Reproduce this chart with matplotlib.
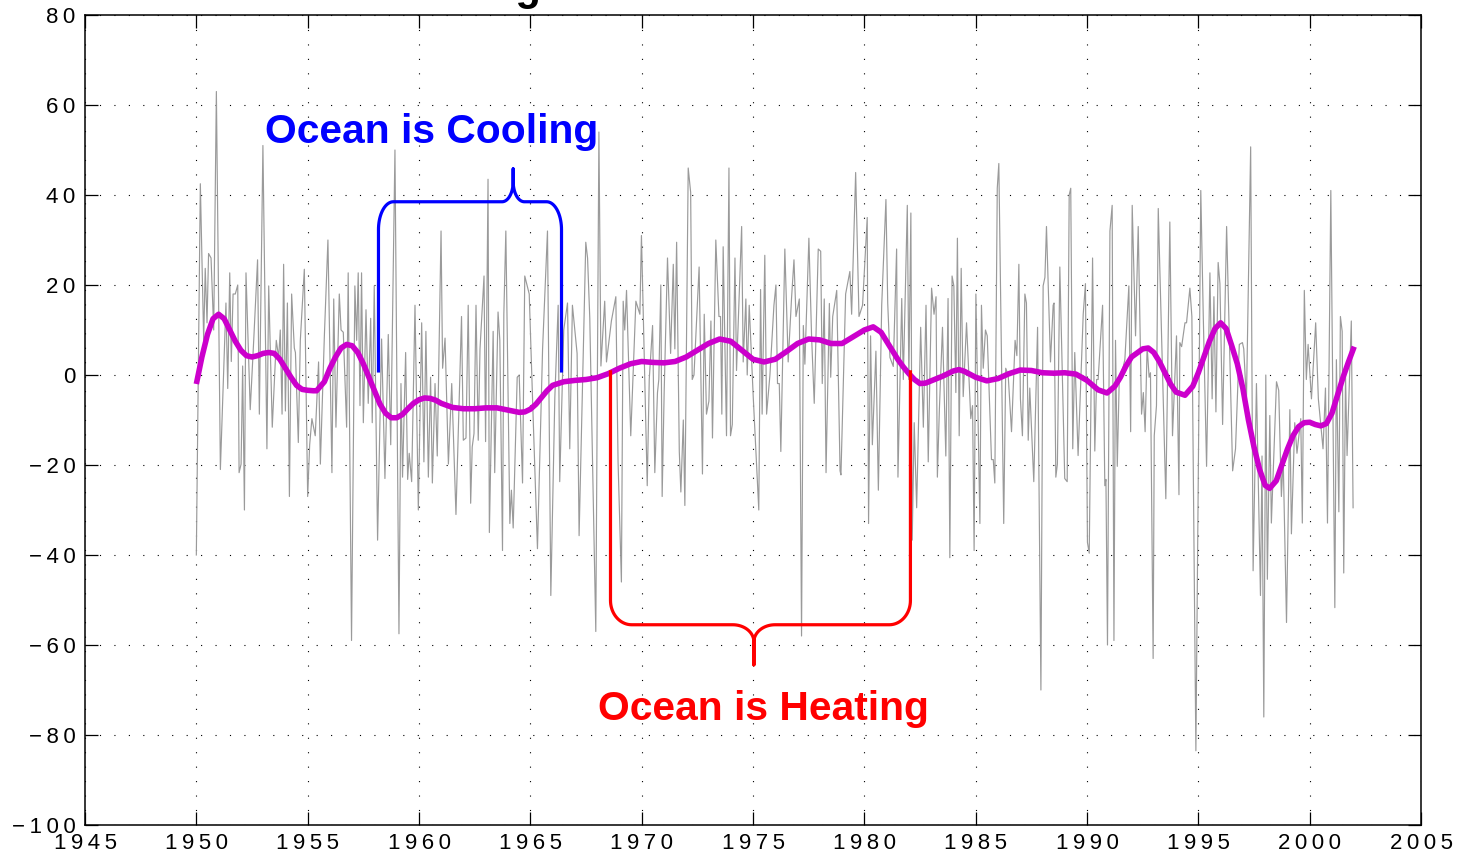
import numpy as np
import matplotlib
matplotlib.use("Agg")
import matplotlib.pyplot as plt
from matplotlib.ticker import FuncFormatter

# ---- monthly-ish anomaly series (grey) ----
years = [
    1950.00, 1950.18, 1950.33, 1950.40, 1950.48, 1950.55, 1950.66, 1950.78, 1950.90, 1951.08,
    1951.33, 1951.41, 1951.50, 1951.57, 1951.65, 1951.75, 1951.86, 1951.92, 1952.01, 1952.08,
    1952.16, 1952.23, 1952.42, 1952.58, 1952.75, 1952.83, 1952.99, 1953.17, 1953.25, 1953.41,
    1953.59, 1953.70, 1953.77, 1953.85, 1953.92, 1954.00, 1954.09, 1954.18, 1954.28, 1954.40,
    1954.45, 1954.58, 1954.67, 1954.85, 1955.00, 1955.09, 1955.19, 1955.34, 1955.49, 1955.57,
    1955.75, 1955.91, 1956.09, 1956.17, 1956.27, 1956.42,
    1956.50, 1956.60, 1956.75, 1956.82, 1956.97, 1957.12, 1957.20, 1957.27, 1957.35, 1957.42,
    1957.50, 1957.62, 1957.72, 1957.83, 1957.90, 1957.99, 1958.14, 1958.32, 1958.47, 1958.62,
    1958.73, 1958.92, 1959.10, 1959.19, 1959.26, 1959.40, 1959.49, 1959.56, 1959.67, 1959.82,
    1959.97, 1960.12, 1960.22, 1960.31, 1960.42, 1960.52, 1960.60, 1960.72, 1960.82, 1960.99,
    1961.06, 1961.17, 1961.32, 1961.47, 1961.66, 1961.91, 1961.99, 1962.11, 1962.21, 1962.32,
    1962.39, 1962.47, 1962.56, 1962.66, 1962.74, 1962.92, 1962.99, 1963.10, 1963.16,
    1963.33, 1963.40, 1963.55, 1963.63, 1963.75, 1963.81, 1963.90, 1964.08, 1964.15, 1964.23,
    1964.41, 1964.50, 1964.65, 1964.75, 1964.95, 1965.13, 1965.32, 1965.55, 1965.77, 1965.92,
    1966.10, 1966.25, 1966.32, 1966.50, 1966.67, 1966.77, 1966.89, 1967.10, 1967.19, 1967.49,
    1967.57, 1967.67, 1967.94, 1968.08, 1968.17, 1968.34, 1968.42, 1968.64, 1968.84, 1968.94,
    1969.09, 1969.17, 1969.24, 1969.32, 1969.51, 1969.74, 1969.92,
    1969.99, 1970.25, 1970.34, 1970.49, 1970.59, 1970.71, 1970.77, 1970.86, 1970.92, 1971.01,
    1971.16, 1971.30, 1971.42, 1971.49, 1971.57, 1971.69, 1971.76, 1971.87, 1971.94, 1972.09,
    1972.20, 1972.27, 1972.35, 1972.58, 1972.73, 1972.81, 1972.91, 1973.02, 1973.11, 1973.18,
    1973.33, 1973.47, 1973.54, 1973.60, 1973.66, 1973.81, 1973.92, 1973.99, 1974.07, 1974.19,
    1974.26, 1974.49, 1974.56, 1974.68, 1974.74, 1974.83, 1975.01, 1975.26, 1975.34, 1975.41,
    1975.53, 1975.61, 1975.76, 1975.94, 1976.03, 1976.10, 1976.18, 1976.25, 1976.43, 1976.58,
    1976.73, 1976.84, 1976.93, 1977.08, 1977.18, 1977.26, 1977.33, 1977.51, 1977.63, 1977.75,
    1977.93, 1978.04, 1978.11, 1978.20, 1978.28, 1978.43, 1978.49, 1978.58, 1978.76, 1978.91,
    1978.95, 1979.16, 1979.35, 1979.43, 1979.61, 1979.76, 1979.92, 1980.13, 1980.19, 1980.28,
    1980.36, 1980.52, 1980.63, 1980.78, 1980.97, 1981.05, 1981.15, 1981.30, 1981.45, 1981.51,
    1981.68, 1981.75, 1981.93, 1982.00, 1982.09, 1982.15, 1982.24, 1982.35, 1982.53, 1982.65,
    1982.77, 1982.87, 1983.02, 1983.13, 1983.22, 1983.28, 1983.37,
    1983.51, 1983.66, 1983.76, 1983.84, 1983.94, 1984.02, 1984.11, 1984.18, 1984.26, 1984.35,
    1984.44, 1984.59, 1984.78, 1984.86, 1984.93, 1985.01, 1985.19, 1985.26, 1985.34, 1985.44,
    1985.52, 1985.71, 1985.79, 1985.86, 1985.97, 1986.04, 1986.26, 1986.35, 1986.46, 1986.61,
    1986.77, 1986.85, 1986.94, 1987.01, 1987.10, 1987.21, 1987.28, 1987.36, 1987.43, 1987.61,
    1987.78, 1987.93, 1988.03, 1988.11, 1988.18, 1988.36, 1988.48, 1988.52, 1988.60, 1988.67,
    1988.78, 1989.00, 1989.11, 1989.20, 1989.27, 1989.36, 1989.45, 1989.60, 1989.83, 1989.93,
    1990.02, 1990.10,
    1990.25, 1990.35, 1990.43, 1990.50, 1990.70, 1990.80, 1990.85, 1990.92, 1991.03, 1991.13,
    1991.21, 1991.28, 1991.36, 1991.45, 1991.63, 1991.70, 1991.88, 1991.96, 1992.03, 1992.18,
    1992.30, 1992.45, 1992.53, 1992.61, 1992.70, 1992.79, 1992.85, 1992.97, 1993.02, 1993.12,
    1993.20, 1993.35, 1993.54, 1993.72, 1993.84, 1994.02, 1994.13, 1994.17, 1994.25, 1994.40,
    1994.47, 1994.62, 1994.71, 1994.89, 1995.11, 1995.22, 1995.37, 1995.52, 1995.62, 1995.70,
    1995.79, 1995.89, 1995.97, 1996.09, 1996.27, 1996.54, 1996.67, 1996.84,
    1996.98, 1997.04, 1997.16, 1997.35, 1997.46, 1997.61, 1997.79, 1997.86, 1997.94, 1998.03,
    1998.10, 1998.21, 1998.28, 1998.51, 1998.61, 1998.73, 1998.81, 1998.96, 1999.11, 1999.18,
    1999.33, 1999.43, 1999.60, 1999.67, 1999.76, 1999.85, 1999.93, 2000.08, 2000.27, 2000.39,
    2000.60, 2000.71, 2000.80, 2000.95, 2001.13, 2001.20, 2001.31, 2001.38, 2001.46, 2001.53,
    2001.61, 2001.68, 2001.87, 2001.95,
]
anomaly = [
    -40.0, 42.5, 7.7, 23.7, 11.6, 27.0, 26.0, 10.0, 63.0, -21.0,
    16.0, -3.0, 22.7, 3.0, 18.0, 18.0, 20.0, -21.7, -19.8, 2.0,
    -30.0, 22.7, -7.7, 8.0, 25.6, -8.7, 51.0, -16.4, 19.8, -11.6,
    7.7, 3.9, 10.0, -8.7, 24.6, -8.0, 16.0, -27.0, 18.0, 6.0,
    5.0, -15.0, 7.7, 23.5, -27.0, -15.5, -9.7, -13.5, 2.9, -19.8,
    8.7, 30.0, -21.7, 16.9, -11.6, 18.0,
    10.0, 9.5, -11.6, 22.7, -59.0, 19.8, 7.7, 22.7, -6.8, 22.7,
    -10.6, 14.5, -6.3, 12.6, -10.6, 19.8, -36.7, 8.0, -23.0, 9.0,
    -15.5, 50.0, -57.5, -1.9, -22.7, 5.0, -23.2, -17.4, -23.7, 15.5,
    -30.0, 11.6, -19.3, 9.7, -22.7, -0.5, -24.0, -1.9, -18.0, 32.0,
    1.5, 8.2, -19.8, -1.9, -31.0, 13.0, -14.5, -14.0, 15.5, -28.5,
    -16.0, -13.0, 15.5, -14.5, 5.8, 22.0, -14.8, 43.5, -35.0,
    9.7, -21.7, 14.0, 7.7, -39.0, 13.5, 32.0, -33.0, -25.6, -34.0,
    -0.5, 0.0, -24.0, 22.0, 18.0, -10.0, -38.6, 5.8, 32.0, -49.0,
    -5.0, 15.5, -23.7, 10.0, 16.0, -16.4, 15.5, 4.8, -35.7, 29.5,
    26.0, 12.6, -57.0, 54.0, 2.0, 16.4, 2.9, 12.0, 17.4, -19.3,
    -46.0, 16.4, 10.0, 18.8, -13.5, 16.4, 13.5,
    31.0, -24.6, -1.0, 11.0, -21.7, -3.9, -1.0, 20.0, -27.0, -3.9,
    26.0, 4.8, 24.6, 5.8, 29.5, -17.0, -26.0, -10.0, -29.0, 46.0,
    40.6, -1.0, 0.0, 24.0, -22.0, 13.5, -8.7, -5.8, 12.0, -14.0,
    30.0, 13.0, 13.0, -8.7, 28.5, -13.5, 46.0, -13.5, -11.0, 26.0,
    1.0, 33.0, 2.9, 16.9, 0.0, 15.5, -4.8, -30.0, 19.0, -8.7,
    26.6, -8.7, 0.0, 15.5, 20.0, -1.9, -1.9, -17.0, 28.0, 2.9,
    17.0, 25.6, 13.0, 16.9, -58.0, 11.0, 2.4, 30.4, 8.7, -6.3,
    28.0, 27.5, -1.9, 16.9, -21.7, 15.9, -0.5, 13.0, 18.8, -21.3,
    -22.2, 18.0, 23.0, 13.5, 45.0, 13.0, 15.5, 35.0, -33.0, 8.7,
    -15.5, 5.3, -25.6, 15.5, 39.0, 16.0, 3.9, 1.9, 28.0, -22.7,
    17.0, -1.0, 37.7, -1.0, 36.0, -36.7, -10.6, -29.5, 10.6, -11.6,
    15.5, -19.3, 19.3, 13.5, 17.4, -22.7, -7.7,
    10.6, -18.0, 17.0, -40.6, 22.0, 19.8, -3.9, 30.4, -13.5, 23.7,
    -4.8, 11.6, -9.7, -6.8, -39.0, 18.0, -33.0, 15.5, 1.5, 10.0,
    8.7, -18.8, -18.8, -24.0, 41.5, 47.0, -33.0, 1.5, 0.0, -12.6,
    7.7, 4.3, 24.6, -5.3, -13.5, 18.0, 16.0, -14.5, -2.9, -23.7,
    10.6, -70.0, 19.8, 21.7, 33.0, 2.9, 15.5, 16.0, -22.7, -19.8,
    24.0, -23.0, -23.7, 40.0, 41.5, -16.4, 5.0, -17.9, 13.5, 20.3,
    -37.2, -39.6,
    26.0, -16.9, -1.0, -1.0, 15.5, -24.6, -23.2, -60.0, 32.0, 37.7,
    -59.0, 7.7, -20.3, -0.5, 1.9, 3.4, 19.8, -12.6, 37.7, 8.7,
    33.0, -8.7, -3.9, -12.6, 6.3, -0.5, 0.5, -63.0, -13.5, -6.8,
    37.0, 8.7, -27.5, 34.0, -13.5, 8.7, -26.6, 7.2, 6.3, 11.6,
    11.6, 19.3, 13.0, -83.5, 41.0, 13.5, -20.3, 22.7, -5.3, 17.4,
    -8.2, 25.0, 20.3, -11.0, 33.0, -21.3, -16.4, 6.8,
    7.2, 5.8, -5.8, 50.7, -43.5, -1.9, -49.0, -18.0, -76.0, 0.0,
    -45.4, -9.0, -32.9, -1.5, -3.4, -27.0, -18.4, -55.0, -7.7, -35.3,
    -10.6, -17.4, -9.7, -32.9, 18.8, -1.0, 6.8, -5.3, 11.6, -5.3,
    -16.4, -2.9, -32.9, 41.0, -51.7, 3.4, -30.4, 13.0, 9.7, -44.0,
    0.0, -17.9, 12.0, -29.5,
]

# ---- smoothed curve (purple) ----
smooth_years = [
    1950.00, 1950.25, 1950.50, 1950.75, 1951.00, 1951.25, 1951.50, 1951.75, 1952.00, 1952.25,
    1952.50, 1952.75, 1953.00, 1953.25, 1953.50, 1953.75, 1954.00, 1954.25, 1954.50, 1954.75,
    1955.00, 1955.25, 1955.40, 1955.75, 1956.00, 1956.25, 1956.50, 1956.75, 1957.00, 1957.25,
    1957.50, 1957.75, 1958.00, 1958.25, 1958.50, 1958.75, 1959.00, 1959.25, 1959.50, 1959.75,
    1960.00, 1960.25, 1960.50, 1960.75, 1961.00, 1961.50, 1962.00, 1962.50, 1963.00, 1963.50,
    1964.00, 1964.50, 1964.75, 1965.00, 1965.25, 1965.50, 1965.75, 1966.00, 1966.50, 1967.00,
    1967.50, 1968.00, 1968.50, 1969.00, 1969.50, 1970.00, 1970.50, 1971.00, 1971.50, 1972.00,
    1972.50, 1973.00, 1973.50, 1974.00, 1974.50, 1975.00, 1975.50, 1976.00, 1976.50, 1977.00,
    1977.50, 1978.00, 1978.50, 1979.00, 1979.50, 1980.00, 1980.40, 1980.75, 1981.00, 1981.25,
    1981.50, 1981.75, 1982.00, 1982.25, 1982.50, 1982.75, 1983.00, 1983.50, 1984.00, 1984.25,
    1984.50, 1985.00, 1985.50, 1986.00, 1986.50, 1987.00, 1987.50, 1988.00, 1988.50, 1989.00,
    1989.50, 1990.00, 1990.50, 1990.90, 1991.25, 1991.50, 1991.75, 1992.00, 1992.50, 1992.75,
    1993.00, 1993.25, 1993.50, 1993.75, 1994.00, 1994.40, 1994.75, 1995.00, 1995.25, 1995.50,
    1995.75, 1996.00, 1996.25, 1996.50, 1996.75, 1997.00, 1997.25, 1997.50, 1997.75, 1998.00,
    1998.20, 1998.50, 1998.75, 1999.00, 1999.25, 1999.50, 1999.75, 2000.00, 2000.25, 2000.50,
    2000.75, 2001.00, 2001.25, 2001.50, 2001.75, 2002.00,
]
smooth_vals = [
    -2.0, 4.0, 9.0, 12.5, 13.5, 12.5, 10.0, 7.5, 5.5, 4.3,
    4.0, 4.3, 4.8, 5.0, 4.8, 3.5, 1.5, -0.5, -2.3, -3.2,
    -3.4, -3.5, -3.5, -1.5, 1.5, 4.0, 6.0, 6.8, 6.5, 5.0,
    2.5, -0.5, -3.5, -6.5, -8.5, -9.5, -9.5, -8.8, -7.5, -6.3,
    -5.5, -5.1, -5.2, -5.6, -6.3, -7.2, -7.5, -7.5, -7.3, -7.3,
    -7.8, -8.3, -8.2, -7.6, -6.5, -5.0, -3.5, -2.3, -1.5, -1.2,
    -1.0, -0.6, 0.3, 1.5, 2.5, 3.0, 2.8, 2.7, 3.0, 4.0,
    5.5, 7.0, 8.0, 7.5, 5.5, 3.5, 2.9, 3.5, 5.2, 7.0,
    8.0, 7.8, 7.0, 7.0, 8.5, 10.0, 10.7, 9.5, 7.5, 5.5,
    3.5, 1.8, 0.3, -1.0, -1.9, -1.8, -1.3, -0.3, 0.9, 1.2,
    0.8, -0.5, -1.3, -0.8, 0.3, 1.1, 1.0, 0.5, 0.4, 0.5,
    0.2, -1.2, -3.3, -4.0, -2.5, -0.5, 2.0, 4.0, 5.8, 6.0,
    5.0, 3.0, 0.5, -2.0, -3.8, -4.5, -2.5, 0.5, 4.0, 7.5,
    10.3, 11.6, 10.3, 6.5, 2.5, -3.0, -10.0, -16.0, -21.0, -24.5,
    -25.2, -23.5, -20.0, -16.5, -13.5, -11.5, -10.6, -10.5, -11.0, -11.3,
    -10.8, -8.5, -4.5, -0.5, 3.0, 6.3,
]

# ---- annotation spans ----
cooling_span = [1958.18, 1966.40]   # start, end of the cooling period
cooling_tip = 1964.23
heating_span = [1968.60, 1982.07]   # start, end of the heating period
heating_tip = 1975.04

x_ticks = list(range(1945, 2006, 5))
y_ticks = list(range(-100, 81, 20))

TICK_FONT = ["Liberation Sans", "DejaVu Sans"]
BOLD_FONT = ["Liberation Sans", "DejaVu Sans"]


def spaced(v, pos=None):
    s = "%d" % v
    s = s.replace("-", "\u2212")
    return "\u2009".join(s)


def brace(x_left, x_right, x_tip, y_leg, y_bar, y_tip, rx_c, ry_c, rx_t, ry_t):
    sgn = 1.0 if y_bar > y_leg else -1.0
    xs, ys = [x_left], [y_leg]
    t = np.linspace(np.pi, np.pi / 2, 20)
    cx, cy = x_left + rx_c, y_bar - sgn * ry_c
    xs += list(cx + rx_c * np.cos(t)); ys += list(cy + sgn * ry_c * np.sin(t))
    t = np.linspace(-np.pi / 2, 0, 20)
    cx, cy = x_tip - rx_t, y_bar + sgn * ry_t
    xs += list(cx + rx_t * np.cos(t)); ys += list(cy + sgn * ry_t * np.sin(t))
    xs.append(x_tip); ys.append(y_tip)
    t = np.linspace(np.pi, 1.5 * np.pi, 20)
    cx, cy = x_tip + rx_t, y_bar + sgn * ry_t
    xs += list(cx + rx_t * np.cos(t)); ys += list(cy + sgn * ry_t * np.sin(t))
    t = np.linspace(np.pi / 2, 0, 20)
    cx, cy = x_right - rx_c, y_bar - sgn * ry_c
    xs += list(cx + rx_c * np.cos(t)); ys += list(cy + sgn * ry_c * np.sin(t))
    xs.append(x_right); ys.append(y_leg)
    return xs, ys


fig = plt.figure(figsize=(14.58, 8.58), dpi=100)
ax = fig.add_axes([85 / 1458, 33 / 858, (1421 - 85) / 1458, (825 - 15) / 858])

ax.plot(years, anomaly, color="#9a9a9a", lw=0.85, zorder=2)
ax.plot(smooth_years, smooth_vals, color="#cc00cc", lw=4.0, zorder=3,
        solid_capstyle="butt", solid_joinstyle="round")

bx, by = brace(cooling_span[0], cooling_span[1], cooling_tip,
               0.9, 38.5, 45.8, 0.67, 6.2, 0.50, 4.5)
ax.plot(bx, by, color="#0000ff", lw=2.3, zorder=4, solid_joinstyle="round")
rx, ry = brace(heating_span[0], heating_span[1], heating_tip,
               0.7, -55.5, -64.4, 0.95, 5.4, 0.95, 3.8)
ax.plot(rx, ry, color="#ff0000", lw=2.3, zorder=4, solid_joinstyle="round")

ax.text(1953.08, 51.6, "Ocean is Cooling", color="#0000ff", fontsize=29.3,
        fontweight="bold", family=BOLD_FONT, ha="left", va="baseline", zorder=5)
ax.text(1968.04, -76.7, "Ocean is Heating", color="#ff0000", fontsize=29.3,
        fontweight="bold", family=BOLD_FONT, ha="left", va="baseline", zorder=5)

ax.set_xlim(1945, 2005)
ax.set_ylim(-100, 80)
ax.set_xticks(x_ticks)
ax.set_yticks(y_ticks)
ax.xaxis.set_major_formatter(FuncFormatter(spaced))
ax.yaxis.set_major_formatter(FuncFormatter(spaced))
ax.tick_params(direction="in", length=9.5, width=0.9, top=True, right=True,
               labelsize=16, colors="black")
ax.tick_params(axis="y", pad=7)
ax.tick_params(axis="x", pad=6)
for lab in ax.get_xticklabels() + ax.get_yticklabels():
    lab.set_family(TICK_FONT)
ax.grid(True, color="black", linestyle=(0, (1, 12)), linewidth=0.8, zorder=1)
for sp in ax.spines.values():
    sp.set_linewidth(1.1)

# Title sits above the canvas; only its descender shows.
fig.text(307 / 1458, 1 + 0.5 / 858, "Heat Storage", fontsize=30, fontweight="bold",
         family=BOLD_FONT, ha="left", va="baseline")

fig.savefig("out.png", dpi=100)
